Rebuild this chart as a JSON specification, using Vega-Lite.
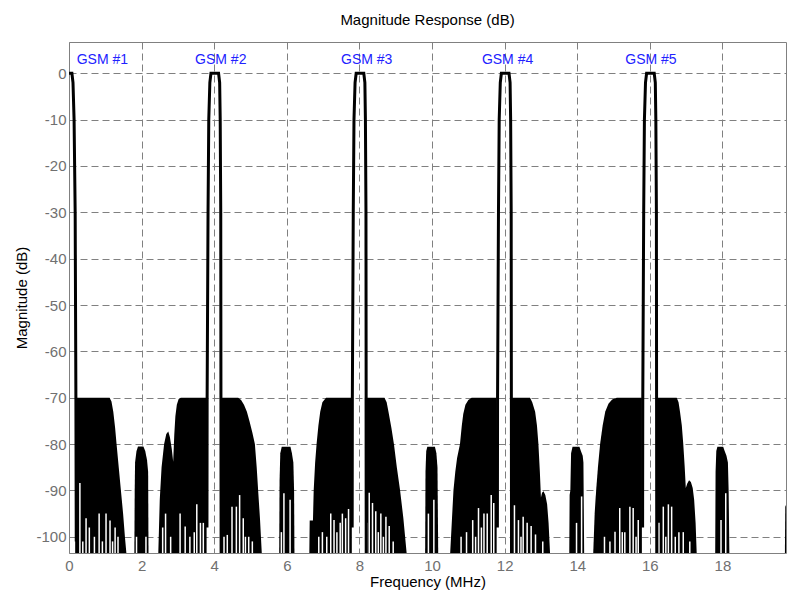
{
  "$schema": "https://vega.github.io/schema/vega-lite/v6.json",
  "width": 717,
  "height": 511,
  "autosize": {"type": "none"},
  "padding": {"left": 69, "top": 42, "right": 1, "bottom": 39},
  "background": "white",
  "title": {"text": "Magnitude Response (dB)", "fontSize": 15, "font": "Liberation Sans", "fontWeight": "normal", "color": "#000000", "offset": 14},
  "config": {
    "view": {"stroke": "#808080", "strokeWidth": 1},
    "axis": {
      "labelFont": "Liberation Sans", "labelFontSize": 15, "labelColor": "#707070",
      "titleFont": "Liberation Sans", "titleFontSize": 15, "titleColor": "#000000", "titleFontWeight": "normal",
      "grid": true, "gridColor": "#808080", "gridDash": [7, 4], "gridWidth": 1, "gridOpacity": 1,
      "ticks": false, "domain": false, "labelFlush": false, "labelOverlap": false
    }
  },
  "datasets": {
    "env": [
      {"blk":"A","f":0.17,"db":-70},{"blk":"A","f":1.12,"db":-70},{"blk":"A","f":1.17,"db":-70.8},{"blk":"A","f":1.22,"db":-73},{"blk":"A","f":1.27,"db":-76.5},{"blk":"A","f":1.31,"db":-80},{"blk":"A","f":1.37,"db":-85},{"blk":"A","f":1.43,"db":-90},{"blk":"A","f":1.49,"db":-95},{"blk":"A","f":1.54,"db":-100},{"blk":"A","f":1.58,"db":-103.5},
      {"blk":"B","f":1.80,"db":-103.5},{"blk":"B","f":1.81,"db":-90},{"blk":"B","f":1.82,"db":-84},{"blk":"B","f":1.86,"db":-81.5},{"blk":"B","f":1.90,"db":-80.5},{"blk":"B","f":2.05,"db":-80.5},{"blk":"B","f":2.10,"db":-81.5},{"blk":"B","f":2.15,"db":-83.5},{"blk":"B","f":2.18,"db":-86},{"blk":"B","f":2.19,"db":-103.5},
      {"blk":"C","f":2.46,"db":-103.5},{"blk":"C","f":2.50,"db":-92},{"blk":"C","f":2.55,"db":-85},{"blk":"C","f":2.62,"db":-80},{"blk":"C","f":2.68,"db":-77.8},{"blk":"C","f":2.735,"db":-77.3},{"blk":"C","f":2.78,"db":-78.5},{"blk":"C","f":2.83,"db":-81},{"blk":"C","f":2.87,"db":-83.8},{"blk":"C","f":2.90,"db":-78},{"blk":"C","f":2.93,"db":-74},{"blk":"C","f":2.97,"db":-71.5},{"blk":"C","f":3.02,"db":-70.3},{"blk":"C","f":3.08,"db":-70},{"blk":"C","f":3.79,"db":-70},
      {"blk":"D","f":4.16,"db":-70},{"blk":"D","f":4.66,"db":-70},{"blk":"D","f":4.74,"db":-70.5},{"blk":"D","f":4.82,"db":-71.5},{"blk":"D","f":4.90,"db":-73},{"blk":"D","f":4.97,"db":-75},{"blk":"D","f":5.05,"db":-77.5},{"blk":"D","f":5.12,"db":-80},{"blk":"D","f":5.17,"db":-85},{"blk":"D","f":5.21,"db":-90},{"blk":"D","f":5.26,"db":-96},{"blk":"D","f":5.31,"db":-103.5},
      {"blk":"E","f":5.79,"db":-103.5},{"blk":"E","f":5.80,"db":-88},{"blk":"E","f":5.82,"db":-82},{"blk":"E","f":5.86,"db":-80.6},{"blk":"E","f":6.10,"db":-80.6},{"blk":"E","f":6.14,"db":-82},{"blk":"E","f":6.18,"db":-84},{"blk":"E","f":6.20,"db":-90},{"blk":"E","f":6.21,"db":-103.5},
      {"blk":"F","f":6.62,"db":-103.5},{"blk":"F","f":6.63,"db":-96.5},{"blk":"F","f":6.72,"db":-96.5},{"blk":"F","f":6.74,"db":-90},{"blk":"F","f":6.78,"db":-84},{"blk":"F","f":6.82,"db":-80},{"blk":"F","f":6.87,"db":-76},{"blk":"F","f":6.92,"db":-73},{"blk":"F","f":6.98,"db":-71},{"blk":"F","f":7.08,"db":-70},{"blk":"F","f":7.79,"db":-70},
      {"blk":"G","f":8.15,"db":-70},{"blk":"G","f":8.69,"db":-70},{"blk":"G","f":8.75,"db":-71},{"blk":"G","f":8.80,"db":-73},{"blk":"G","f":8.88,"db":-76.5},{"blk":"G","f":8.95,"db":-80},{"blk":"G","f":9.03,"db":-85},{"blk":"G","f":9.12,"db":-90},{"blk":"G","f":9.21,"db":-96},{"blk":"G","f":9.30,"db":-103.5},
      {"blk":"H","f":9.81,"db":-103.5},{"blk":"H","f":9.82,"db":-86},{"blk":"H","f":9.84,"db":-81.5},{"blk":"H","f":9.87,"db":-80.6},{"blk":"H","f":10.08,"db":-80.6},{"blk":"H","f":10.12,"db":-82},{"blk":"H","f":10.15,"db":-85},{"blk":"H","f":10.17,"db":-103.5},
      {"blk":"I","f":10.50,"db":-103.5},{"blk":"I","f":10.55,"db":-96},{"blk":"I","f":10.59,"db":-90},{"blk":"I","f":10.64,"db":-86},{"blk":"I","f":10.69,"db":-83},{"blk":"I","f":10.77,"db":-80},{"blk":"I","f":10.82,"db":-76},{"blk":"I","f":10.86,"db":-73.5},{"blk":"I","f":10.92,"db":-71.5},{"blk":"I","f":11.00,"db":-70.5},{"blk":"I","f":11.09,"db":-70},{"blk":"I","f":11.78,"db":-70},
      {"blk":"J","f":12.15,"db":-70},{"blk":"J","f":12.70,"db":-70},{"blk":"J","f":12.76,"db":-71},{"blk":"J","f":12.84,"db":-73},{"blk":"J","f":12.89,"db":-76},{"blk":"J","f":12.93,"db":-80},{"blk":"J","f":12.97,"db":-86},{"blk":"J","f":13.00,"db":-91.5},{"blk":"J","f":13.03,"db":-90.5},{"blk":"J","f":13.07,"db":-90.2},{"blk":"J","f":13.12,"db":-91},{"blk":"J","f":13.17,"db":-93},{"blk":"J","f":13.21,"db":-97},{"blk":"J","f":13.25,"db":-103.5},
      {"blk":"K","f":13.78,"db":-103.5},{"blk":"K","f":13.79,"db":-91},{"blk":"K","f":13.81,"db":-90},{"blk":"K","f":13.83,"db":-82},{"blk":"K","f":13.87,"db":-80.6},{"blk":"K","f":14.06,"db":-80.6},{"blk":"K","f":14.10,"db":-81.5},{"blk":"K","f":14.15,"db":-82.5},{"blk":"K","f":14.17,"db":-84},{"blk":"K","f":14.19,"db":-103.5},
      {"blk":"L","f":14.44,"db":-103.5},{"blk":"L","f":14.48,"db":-95},{"blk":"L","f":14.52,"db":-90},{"blk":"L","f":14.57,"db":-85},{"blk":"L","f":14.63,"db":-80},{"blk":"L","f":14.70,"db":-76},{"blk":"L","f":14.77,"db":-73},{"blk":"L","f":14.86,"db":-71.3},{"blk":"L","f":14.96,"db":-70.4},{"blk":"L","f":15.09,"db":-70},{"blk":"L","f":15.78,"db":-70},
      {"blk":"M","f":16.17,"db":-70},{"blk":"M","f":16.74,"db":-70},{"blk":"M","f":16.79,"db":-71},{"blk":"M","f":16.83,"db":-73},{"blk":"M","f":16.88,"db":-76},{"blk":"M","f":16.92,"db":-80},{"blk":"M","f":16.96,"db":-85},{"blk":"M","f":16.99,"db":-89.5},{"blk":"M","f":17.03,"db":-88.5},{"blk":"M","f":17.08,"db":-87.8},{"blk":"M","f":17.13,"db":-88.2},{"blk":"M","f":17.18,"db":-89.5},{"blk":"M","f":17.22,"db":-92},{"blk":"M","f":17.26,"db":-97},{"blk":"M","f":17.29,"db":-103.5},
      {"blk":"N","f":17.80,"db":-103.5},{"blk":"N","f":17.81,"db":-86},{"blk":"N","f":17.83,"db":-81.5},{"blk":"N","f":17.86,"db":-80.6},{"blk":"N","f":18.02,"db":-80.6},{"blk":"N","f":18.06,"db":-81.5},{"blk":"N","f":18.11,"db":-82.5},{"blk":"N","f":18.15,"db":-84},{"blk":"N","f":18.17,"db":-90},{"blk":"N","f":18.19,"db":-103.5},
      {"blk":"O","f":19.72,"db":-103.5},{"blk":"O","f":19.73,"db":-93.5},{"blk":"O","f":19.76,"db":-93}
    ],
    "gaps": [
      {"f":0.30,"db":-88.4},{"f":0.38,"db":-101},{"f":0.47,"db":-96},{"f":0.56,"db":-98},{"f":0.70,"db":-100},{"f":0.83,"db":-95},{"f":0.92,"db":-101},{"f":1.02,"db":-95},{"f":1.13,"db":-96.5},{"f":1.20,"db":-101},{"f":1.27,"db":-98},{"f":1.35,"db":-100},
      {"f":1.86,"db":-100},{"f":2.12,"db":-100},
      {"f":2.58,"db":-98},{"f":2.66,"db":-95},{"f":2.80,"db":-100},{"f":3.06,"db":-95},{"f":3.20,"db":-97.8},{"f":3.33,"db":-100},{"f":3.45,"db":-99},{"f":3.52,"db":-93},{"f":3.62,"db":-97},{"f":3.70,"db":-97},
      {"f":4.27,"db":-100},{"f":4.36,"db":-99.6},{"f":4.49,"db":-93.5},{"f":4.61,"db":-93.5},{"f":4.70,"db":-91},{"f":4.80,"db":-96},{"f":4.86,"db":-100},{"f":4.95,"db":-100},{"f":5.05,"db":-101},
      {"f":5.85,"db":-99},{"f":5.92,"db":-90.6},{"f":6.09,"db":-92},
      {"f":6.88,"db":-100},{"f":6.98,"db":-99},{"f":7.10,"db":-100},{"f":7.21,"db":-95},{"f":7.30,"db":-96.4},{"f":7.38,"db":-99},{"f":7.47,"db":-97},{"f":7.53,"db":-95},{"f":7.62,"db":-96},{"f":7.70,"db":-94},
      {"f":8.21,"db":-97},{"f":8.27,"db":-90.5},{"f":8.36,"db":-92.7},{"f":8.45,"db":-94.5},{"f":8.52,"db":-99},{"f":8.59,"db":-95},{"f":8.66,"db":-100},{"f":8.73,"db":-95.7},{"f":8.82,"db":-97.7},{"f":8.93,"db":-101},
      {"f":9.90,"db":-95},{"f":10.05,"db":-92},
      {"f":10.80,"db":-100},{"f":10.95,"db":-99},{"f":11.12,"db":-96.4},{"f":11.20,"db":-100},{"f":11.28,"db":-93.8},{"f":11.36,"db":-98},{"f":11.43,"db":-95},{"f":11.52,"db":-95},{"f":11.63,"db":-91},{"f":11.70,"db":-92.7},
      {"f":12.20,"db":-99},{"f":12.27,"db":-93.2},{"f":12.38,"db":-96.4},{"f":12.45,"db":-100},{"f":12.51,"db":-95.7},{"f":12.62,"db":-97},{"f":12.73,"db":-97.7},{"f":12.85,"db":-99.5},{"f":13.05,"db":-101},
      {"f":13.98,"db":-97},{"f":14.12,"db":-91.3},
      {"f":14.75,"db":-100},{"f":14.90,"db":-101},{"f":15.04,"db":-98.9},{"f":15.17,"db":-93.8},{"f":15.24,"db":-99},{"f":15.31,"db":-99},{"f":15.45,"db":-93.5},{"f":15.54,"db":-93.8},{"f":15.62,"db":-100},{"f":15.68,"db":-96.4},
      {"f":16.25,"db":-97},{"f":16.37,"db":-93.5},{"f":16.44,"db":-100},{"f":16.51,"db":-93},{"f":16.60,"db":-93.5},{"f":16.70,"db":-100},{"f":16.80,"db":-99},{"f":16.92,"db":-99},{"f":17.10,"db":-101},
      {"f":17.96,"db":-96.4},{"f":18.09,"db":-90.6}
    ],
    "bands": [
      {"band":"1","i":1,"f":0.00,"db":0},{"band":"1","i":2,"f":0.08,"db":0},{"band":"1","i":3,"f":0.11,"db":-2},{"band":"1","i":4,"f":0.14,"db":-10},{"band":"1","i":5,"f":0.17,"db":-30},{"band":"1","i":6,"f":0.185,"db":-60},{"band":"1","i":7,"f":0.19,"db":-70},{"band":"1","i":8,"f":0.20,"db":-101},
      {"band":"2","i":1,"f":3.80,"db":-98},{"band":"2","i":2,"f":3.805,"db":-70},{"band":"2","i":3,"f":3.83,"db":-30},{"band":"2","i":4,"f":3.85,"db":-10},{"band":"2","i":5,"f":3.88,"db":-2},{"band":"2","i":6,"f":3.91,"db":0},{"band":"2","i":7,"f":4.12,"db":0},{"band":"2","i":8,"f":4.15,"db":-2},{"band":"2","i":9,"f":4.165,"db":-10},{"band":"2","i":10,"f":4.18,"db":-30},{"band":"2","i":11,"f":4.185,"db":-70},{"band":"2","i":12,"f":4.19,"db":-103.5},
      {"band":"3","i":1,"f":7.80,"db":-98},{"band":"3","i":2,"f":7.805,"db":-70},{"band":"3","i":3,"f":7.83,"db":-30},{"band":"3","i":4,"f":7.85,"db":-10},{"band":"3","i":5,"f":7.88,"db":-2},{"band":"3","i":6,"f":7.91,"db":0},{"band":"3","i":7,"f":8.12,"db":0},{"band":"3","i":8,"f":8.15,"db":-2},{"band":"3","i":9,"f":8.165,"db":-10},{"band":"3","i":10,"f":8.18,"db":-30},{"band":"3","i":11,"f":8.185,"db":-70},{"band":"3","i":12,"f":8.19,"db":-103.5},
      {"band":"4","i":1,"f":11.80,"db":-98},{"band":"4","i":2,"f":11.805,"db":-70},{"band":"4","i":3,"f":11.83,"db":-30},{"band":"4","i":4,"f":11.85,"db":-10},{"band":"4","i":5,"f":11.88,"db":-2},{"band":"4","i":6,"f":11.91,"db":0},{"band":"4","i":7,"f":12.12,"db":0},{"band":"4","i":8,"f":12.15,"db":-2},{"band":"4","i":9,"f":12.165,"db":-10},{"band":"4","i":10,"f":12.18,"db":-30},{"band":"4","i":11,"f":12.185,"db":-70},{"band":"4","i":12,"f":12.19,"db":-103.5},
      {"band":"5","i":1,"f":15.80,"db":-98},{"band":"5","i":2,"f":15.805,"db":-70},{"band":"5","i":3,"f":15.83,"db":-30},{"band":"5","i":4,"f":15.85,"db":-10},{"band":"5","i":5,"f":15.88,"db":-2},{"band":"5","i":6,"f":15.91,"db":0},{"band":"5","i":7,"f":16.12,"db":0},{"band":"5","i":8,"f":16.15,"db":-2},{"band":"5","i":9,"f":16.165,"db":-10},{"band":"5","i":10,"f":16.18,"db":-30},{"band":"5","i":11,"f":16.185,"db":-70},{"band":"5","i":12,"f":16.19,"db":-103.5}
    ],
    "labels": [
      {"label":"GSM #1","f":0.92,"db":2.76},
      {"label":"GSM #2","f":4.18,"db":2.76},
      {"label":"GSM #3","f":8.2,"db":2.76},
      {"label":"GSM #4","f":12.08,"db":2.76},
      {"label":"GSM #5","f":16.03,"db":2.76}
    ]
  },
  "encoding": {
    "x": {"field": "f", "type": "quantitative",
      "scale": {"domain": [0, 19.75], "nice": false, "zero": false},
      "axis": {"values": [0, 2, 4, 6, 8, 10, 12, 14, 16, 18], "title": "Frequency (MHz)", "labelPadding": 5, "titlePadding": 1, "labelExpr": "'' + datum.value"}},
    "y": {"field": "db", "type": "quantitative",
      "scale": {"domain": [-103.5, 6.75], "nice": false, "zero": false},
      "axis": {"values": [0, -10, -20, -30, -40, -50, -60, -70, -80, -90, -100], "title": "Magnitude (dB)", "labelPadding": 3, "titlePadding": 6, "labelExpr": "'' + datum.value"}}
  },
  "layer": [
    {
      "data": {"name": "env"},
      "mark": {"type": "area", "color": "#000000", "clip": true, "interpolate": "linear"},
      "encoding": {"detail": {"field": "blk"}, "y2": {"datum": -103.5}}
    },
    {
      "data": {"name": "gaps"},
      "mark": {"type": "rule", "color": "#ffffff", "strokeWidth": 1.5, "clip": true},
      "encoding": {"y2": {"datum": -103.5}}
    },
    {
      "data": {"name": "bands"},
      "mark": {"type": "line", "color": "#000000", "strokeWidth": 3, "clip": true, "strokeJoin": "miter"},
      "encoding": {"detail": {"field": "band"}, "order": {"field": "i", "type": "quantitative"}}
    },
    {
      "data": {"name": "labels"},
      "mark": {"type": "text", "color": "#2222ff", "fontSize": 14, "font": "Liberation Sans", "align": "center", "baseline": "middle"},
      "encoding": {"text": {"field": "label"}}
    }
  ]
}
